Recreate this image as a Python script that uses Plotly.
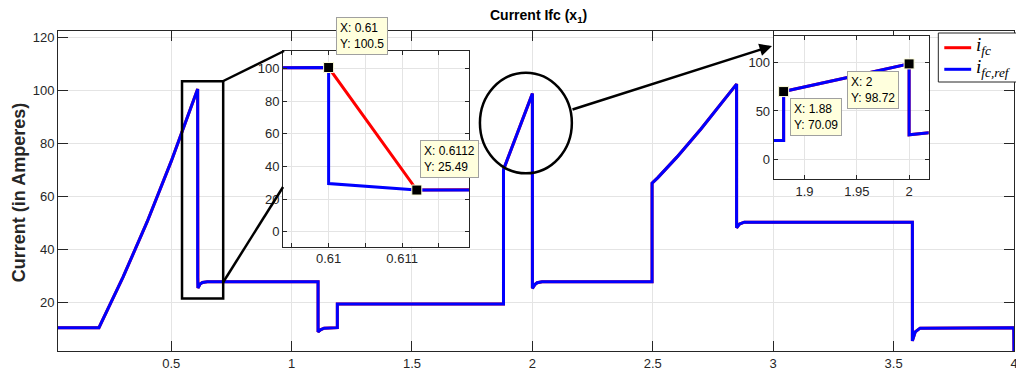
import plotly.graph_objects as go

# ---------------- data ----------------
t_ref = [0.03, 0.2, 0.3, 0.4, 0.5, 0.55, 0.61, 0.61, 0.6112, 0.62, 0.63, 0.65,
         1.11, 1.11, 1.12, 1.135, 1.19, 1.19, 1.88, 1.88, 1.94, 2.0, 2.0, 2.01, 2.02, 2.04,
         2.497, 2.497, 2.52, 2.6, 2.7, 2.8, 2.848, 2.848, 2.86, 2.88,
         3.578, 3.578, 3.59, 3.61, 3.999, 4.0]
i_ref = [10.6, 10.6, 29.6, 50.4, 73.2, 85.3, 100.5, 29.5, 25.5, 27.0, 27.6, 27.9,
         27.9, 9.0, 9.8, 10.4, 10.6, 19.5, 19.5, 70.09, 84.4, 98.72, 25.4, 26.8, 27.5, 27.9,
         27.9, 65, 67.0, 74.8, 85.4, 96.8, 102.3, 48.2, 49.6, 50.3,
         50.3, 5.6, 9.0, 10.4, 10.6, 0]

t_fc = [0.03, 0.2, 0.3, 0.4, 0.5, 0.55, 0.61, 0.6112, 0.62, 0.63, 0.65,
        1.11, 1.11, 1.12, 1.135, 1.19, 1.19, 1.88, 1.88, 1.94, 2.0, 2.0, 2.01, 2.02, 2.04,
        2.497, 2.497, 2.52, 2.6, 2.7, 2.8, 2.848, 2.848, 2.86, 2.88,
        3.578, 3.578, 3.59, 3.61, 3.999, 4.0]
i_fc = [10.6, 10.6, 29.6, 50.4, 73.2, 85.3, 100.5, 25.49, 27.0, 27.6, 27.9,
        27.9, 9.0, 9.8, 10.4, 10.6, 19.5, 19.5, 70.09, 84.4, 98.72, 25.4, 26.8, 27.5, 27.9,
        27.9, 65, 67.0, 74.8, 85.4, 96.8, 102.3, 48.2, 49.6, 50.3,
        50.3, 5.6, 9.0, 10.4, 10.6, 0]

tips1_x = [0.61, 0.6112]
tips1_y = [100.5, 25.49]
tips2_x = [1.88, 2.0]
tips2_y = [70.09, 98.72]

main_xticks = [0.5, 1, 1.5, 2, 2.5, 3, 3.5, 4]
main_xlabels = ["0.5", "1", "1.5", "2", "2.5", "3", "3.5", "4"]
main_yticks = [20, 40, 60, 80, 100, 120]
in1_xticks = [0.61, 0.611]
in1_xlabels = ["0.61", "0.611"]
in1_xminor = [0.6095, 0.6105, 0.6115]
in1_yticks = [0, 20, 40, 60, 80, 100]
in2_xticks = [1.9, 1.95, 2.0]
in2_xlabels = ["1.9", "1.95", "2"]
in2_yticks = [0, 50, 100]

RED = "#ff0000"
BLUE = "#0000ff"
AX = "#262626"
GRID = "#e4e4e4"
FONT = "Liberation Sans, Arial, sans-serif"

fig = go.Figure()

# main
fig.add_trace(go.Scatter(x=t_fc, y=i_fc, mode="lines", line=dict(color=RED, width=3),
                         xaxis="x", yaxis="y", showlegend=False))
fig.add_trace(go.Scatter(x=t_ref, y=i_ref, mode="lines", line=dict(color=BLUE, width=3),
                         xaxis="x", yaxis="y", showlegend=False))
# inset 1
fig.add_trace(go.Scatter(x=t_fc, y=i_fc, mode="lines", line=dict(color=RED, width=3),
                         xaxis="x2", yaxis="y2", showlegend=False))
fig.add_trace(go.Scatter(x=t_ref, y=i_ref, mode="lines", line=dict(color=BLUE, width=3),
                         xaxis="x2", yaxis="y2", showlegend=False))
fig.add_trace(go.Scatter(x=tips1_x, y=tips1_y, mode="markers",
                         marker=dict(symbol="square", size=10, color="black",
                                     line=dict(color="#ffffdd", width=1)),
                         xaxis="x2", yaxis="y2", showlegend=False))
# inset 2
fig.add_trace(go.Scatter(x=t_fc, y=i_fc, mode="lines", line=dict(color=RED, width=3),
                         xaxis="x3", yaxis="y3", showlegend=False))
fig.add_trace(go.Scatter(x=t_ref, y=i_ref, mode="lines", line=dict(color=BLUE, width=3),
                         xaxis="x3", yaxis="y3", showlegend=False))
fig.add_trace(go.Scatter(x=tips2_x, y=tips2_y, mode="markers",
                         marker=dict(symbol="square", size=10, color="black",
                                     line=dict(color="#ffffdd", width=1)),
                         xaxis="x3", yaxis="y3", showlegend=False))

common = dict(showline=True, linecolor=AX, linewidth=1, mirror="ticks", ticks="inside",
              tickcolor=AX, showgrid=True, gridcolor=GRID, gridwidth=1, zeroline=False,
              tickfont=dict(family=FONT, size=13, color=AX))

# the page places the figure 8px from the top-left corner, so the figure is
# 8px smaller; these helpers convert page pixels of the target to paper units
def px2paper_x(px):
    return (px - 58) / 960.0

def px2paper_y(py):
    return (351 - py) / 320.0

fig.update_layout(
    width=1016, height=371,
    margin=dict(l=50, r=6, t=23, b=28),
    paper_bgcolor="white", plot_bgcolor="white",
    font=dict(family=FONT, color=AX),
    xaxis=dict(domain=[0, 1], anchor="y", range=[0.03, 4.0], tickmode="array",
               tickvals=main_xticks, ticktext=main_xlabels, ticklen=10, **common),
    yaxis=dict(domain=[0, 1], anchor="x", range=[1.8, 122.3], tickmode="array",
               tickvals=main_yticks, ticklen=10, **common),
    xaxis2=dict(domain=[px2paper_x(284), px2paper_x(470.7)], anchor="y2",
                range=[0.60938, 0.61191], tickmode="array", tickvals=in1_xticks,
                ticktext=in1_xlabels, ticklen=4,
                minor=dict(tickmode="array", tickvals=in1_xminor, ticks="inside", ticklen=4,
                           tickcolor=AX, showgrid=True, gridcolor=GRID, gridwidth=1),
                **common),
    yaxis2=dict(domain=[px2paper_y(246.7), px2paper_y(50.7)], anchor="x2",
                range=[-9.2, 110.8], tickmode="array", tickvals=in1_yticks, ticklen=4, **common),
    xaxis3=dict(domain=[px2paper_x(776.7), px2paper_x(932.3)], anchor="y3",
                range=[1.8705, 2.0187], tickmode="array", tickvals=in2_xticks,
                ticktext=in2_xlabels, ticklen=4, **common),
    yaxis3=dict(domain=[px2paper_y(179), px2paper_y(36)], anchor="x3",
                range=[-20.4, 127.6], tickmode="array", tickvals=in2_yticks, ticklen=4, **common),
)

shapes = []
# zoom rectangle on main plot
shapes.append(dict(type="rect", xref="x", yref="y", x0=0.545, x1=0.716, y0=21.6, y1=103.4,
                   line=dict(color="black", width=2.5)))
# connector lines
shapes.append(dict(type="line", xref="paper", yref="paper",
                   x0=px2paper_x(224), y0=px2paper_y(81), x1=px2paper_x(285), y1=px2paper_y(51),
                   line=dict(color="black", width=2.5)))
shapes.append(dict(type="line", xref="paper", yref="paper",
                   x0=px2paper_x(224), y0=px2paper_y(282), x1=px2paper_x(284), y1=px2paper_y(187),
                   line=dict(color="black", width=2.5)))
# ellipse
shapes.append(dict(type="circle", xref="paper", yref="paper",
                   x0=px2paper_x(481.7), x1=px2paper_x(574), y0=px2paper_y(173.3), y1=px2paper_y(72.7),
                   line=dict(color="black", width=2.5)))
# legend box
shapes.append(dict(type="rect", xref="paper", yref="paper",
                   x0=px2paper_x(942), x1=px2paper_x(1021), y0=px2paper_y(82), y1=px2paper_y(33),
                   fillcolor="white", line=dict(color=AX, width=1)))
shapes.append(dict(type="line", xref="paper", yref="paper",
                   x0=px2paper_x(948), x1=px2paper_x(975), y0=px2paper_y(47.7), y1=px2paper_y(47.7),
                   line=dict(color=RED, width=3)))
shapes.append(dict(type="line", xref="paper", yref="paper",
                   x0=px2paper_x(948), x1=px2paper_x(975), y0=px2paper_y(69.3), y1=px2paper_y(69.3),
                   line=dict(color=BLUE, width=3)))
fig.update_layout(shapes=shapes)

ann = []
# title
ann.append(dict(text="<b>Current Ifc (x<sub>1</sub>)</b>", xref="paper", yref="paper",
                x=px2paper_x(541), y=px2paper_y(16), xanchor="center", yanchor="middle",
                showarrow=False, font=dict(family=FONT, size=14, color="black")))
# y label
ann.append(dict(text="<b>Current (in Amperes)</b>", xref="paper", yref="paper",
                x=px2paper_x(19), y=px2paper_y(193), xanchor="center", yanchor="middle",
                textangle=-90, showarrow=False, font=dict(family=FONT, size=18, color=AX)))
# arrow
ann.append(dict(text="", xref="paper", yref="paper", x=px2paper_x(775), y=px2paper_y(46),
                ax=574 - 775, ay=110 - 46, showarrow=True, arrowhead=2, arrowsize=1,
                arrowwidth=2.5, arrowcolor="black"))
# data tips
tip_style = dict(xref="paper", yref="paper", xanchor="left", yanchor="top", align="left",
                 showarrow=False, bgcolor="#ffffdd", bordercolor="#a0a0a0", borderwidth=1,
                 borderpad=3, font=dict(family=FONT, size=12, color="black"))
ann.append(dict(text="X: 0.61<br>Y: 100.5", x=px2paper_x(337), y=px2paper_y(17), **tip_style))
ann.append(dict(text="X: 0.6112<br>Y: 25.49", x=px2paper_x(422), y=px2paper_y(140), **tip_style))
ann.append(dict(text="X: 1.88<br>Y: 70.09", x=px2paper_x(793), y=px2paper_y(98), **tip_style))
ann.append(dict(text="X: 2<br>Y: 98.72", x=px2paper_x(850), y=px2paper_y(71), **tip_style))
# legend text
leg_font = dict(family="Liberation Serif, DejaVu Serif, serif", size=19, color="black")
ann.append(dict(text="<i>i</i><sub><i>fc</i></sub>", xref="paper", yref="paper",
                x=px2paper_x(978), y=px2paper_y(46), xanchor="left", yanchor="middle",
                showarrow=False, font=leg_font))
ann.append(dict(text="<i>i</i><sub><i>fc,ref</i></sub>", xref="paper", yref="paper",
                x=px2paper_x(978), y=px2paper_y(68), xanchor="left", yanchor="middle",
                showarrow=False, font=leg_font))
fig.update_layout(annotations=ann)

fig.write_html("out.html")
